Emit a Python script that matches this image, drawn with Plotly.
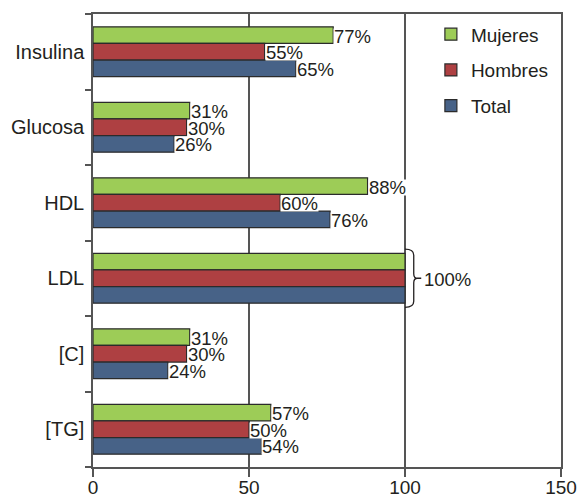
import plotly.graph_objects as go

# Data
categories = ["Insulina", "Glucosa", "HDL", "LDL", "[C]", "[TG]"]
mujeres = [77, 31, 88, 100, 31, 57]
hombres = [55, 30, 60, 100, 30, 50]
total = [65, 26, 76, 100, 24, 54]
x_ticks = [0, 50, 100, 150]
ldl_label = "100%"

series = [
    ("Mujeres", mujeres, "#9dcc57"),
    ("Hombres", hombres, "#ae4042"),
    ("Total", total, "#476287"),
]

FONT = "Liberation Sans, Arial, Helvetica, sans-serif"
TXT = "#231f20"
AXC = "#555555"
BARGAP = 0.34
bar_w = (1 - BARGAP) / 3

ypos = list(range(len(categories)))

fig = go.Figure()
for name, vals, color in series:
    fig.add_trace(go.Bar(
        name=name, x=vals, y=ypos, orientation="h",
        marker=dict(color=color, line=dict(color="#2b2b2b", width=1.2)),
        legendgroup=name,
    ))

# value labels to the right of each bar (LDL gets one shared label)
annotations = []
for k, (name, vals, color) in enumerate(series):
    off = (k - 1) * bar_w
    for i, v in enumerate(vals):
        if categories[i] == "LDL":
            continue
        annotations.append(dict(
            x=v, y=i + off, xref="x", yref="y", text=f"{v}%",
            showarrow=False, xanchor="left", yanchor="middle",
            xshift=0, yshift=-1, bgcolor="white", borderpad=0,
            height=15,
            font=dict(family=FONT, size=18.5, color=TXT),
        ))

ldl = categories.index("LDL")
ldl_val = max(mujeres[ldl], hombres[ldl], total[ldl])
annotations.append(dict(
    x=ldl_val + 5.5, y=ldl, xref="x", yref="y", text=ldl_label,
    showarrow=False, xanchor="left", yanchor="middle", yshift=-1,
    font=dict(family=FONT, size=18.5, color=TXT),
))

# curly brace grouping the three LDL bars
c = ldl
b = ldl_val
h = 0.385
brace = (
    f"M {b},{c - h} Q {b + 2.8},{c - h} {b + 2.8},{c - h + 0.08} "
    f"L {b + 2.8},{c - 0.06} Q {b + 2.8},{c} {b + 4.0},{c} L {b + 5.2},{c} "
    f"M {b + 4.0},{c} Q {b + 2.8},{c} {b + 2.8},{c + 0.06} "
    f"L {b + 2.8},{c + h - 0.08} Q {b + 2.8},{c + h} {b},{c + h}"
)

fig.update_layout(
    width=577, height=494,
    margin=dict(l=93, r=16, t=14, b=27, autoexpand=False),
    paper_bgcolor="white", plot_bgcolor="white",
    barmode="group", bargap=BARGAP, bargroupgap=0,
    font=dict(family=FONT, size=19, color=TXT),
    showlegend=True,
    legend=dict(
        x=0.722, y=0.997, xanchor="left", yanchor="top",
        traceorder="grouped", tracegroupgap=8,
        bgcolor="rgba(0,0,0,0)", borderwidth=0,
        font=dict(family=FONT, size=19, color=TXT),
        itemwidth=30,
    ),
    annotations=annotations,
    shapes=[dict(type="path", xref="x", yref="y", path=brace,
                 line=dict(color=TXT, width=1.3))],
    xaxis=dict(
        range=[0, 150], tickvals=x_ticks, ticktext=[str(t) for t in x_ticks],
        showgrid=True, gridcolor=AXC, gridwidth=1.5,
        showline=True, linecolor=AXC, linewidth=1.5, mirror=True,
        ticks="outside", ticklen=8, tickwidth=1.5, tickcolor=AXC,
        tickfont=dict(family=FONT, size=19, color=TXT),
        ticklabelstandoff=-6,
        zeroline=False, automargin=False,
    ),
    yaxis=dict(
        range=[len(categories) - 0.5, -0.5],
        tickvals=ypos, ticktext=categories, ticks="",
        showgrid=False, zeroline=False,
        showline=True, linecolor=AXC, linewidth=1.5, mirror=True,
        tickfont=dict(family=FONT, size=20, color=TXT),
        ticklabelstandoff=3, automargin=False,
        minor=dict(tick0=0.5, dtick=1, ticks="outside", ticklen=6,
                   tickwidth=1.5, tickcolor=AXC, showgrid=False),
    ),
)

fig.write_html("out.html")
